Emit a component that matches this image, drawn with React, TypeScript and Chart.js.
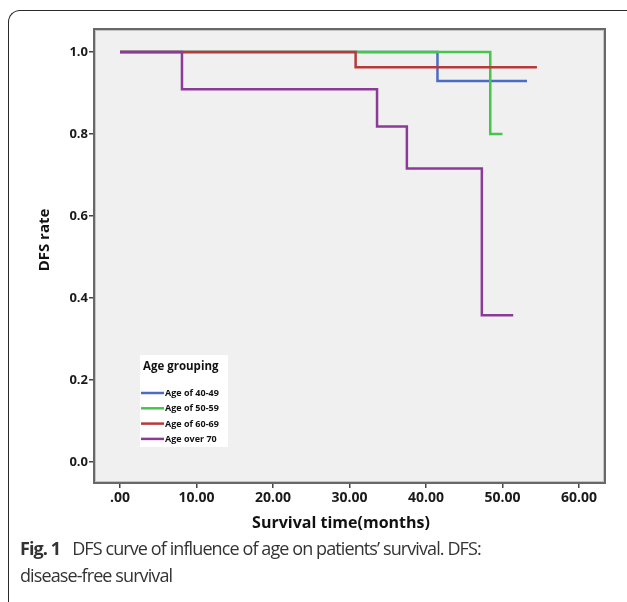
import React, { useEffect, useRef } from "react";
import { Chart, registerables } from "chart.js";

Chart.register(...registerables);

// ---- data ----
const groupNames = ["Age of 40-49", "Age of 50-59", "Age of 60-69", "Age over 70"];
const groupColors = ["#4a6cc4", "#45c64a", "#b8393c", "#8c3a98"];

const blueTimes = [0, 41.5, 53.2];
const blueRates = [1.0, 0.929, 0.929];
const greenTimes = [0, 48.4, 50.0];
const greenRates = [1.0, 0.8, 0.8];
const redTimes = [0, 30.8, 54.5];
const redRates = [1.0, 0.963, 0.963];
const purpleTimes = [0, 8.1, 33.6, 37.5, 47.3, 51.4];
const purpleRates = [1.0, 0.909, 0.818, 0.716, 0.358, 0.358];

const xTickValues = [0, 10, 20, 30, 40, 50, 60];
const yTickValues = [0, 0.2, 0.4, 0.6, 0.8, 1.0];

const xTitle = "Survival time(months)";
const yTitle = "DFS rate";
const legendTitle = "Age grouping";

const toPoints = (xs: number[], ys: number[]) => xs.map((x, i) => ({ x, y: ys[i] }));

const FONT = "'Open Sans', 'Noto Sans', sans-serif";

export default function App() {
  const canvasRef = useRef<HTMLCanvasElement | null>(null);

  useEffect(() => {
    const canvas = canvasRef.current;
    if (!canvas) return;

    const seriesX = [blueTimes, greenTimes, redTimes, purpleTimes];
    const seriesY = [blueRates, greenRates, redRates, purpleRates];

    const bgPlugin = {
      id: "bgFrame",
      beforeDatasetsDraw(chart: any) {
        const { ctx, chartArea } = chart;
        ctx.save();
        ctx.fillStyle = "#f0f0f0";
        ctx.fillRect(chartArea.left, chartArea.top, chartArea.right - chartArea.left, chartArea.bottom - chartArea.top);
        ctx.restore();
      },
      afterDatasetsDraw(chart: any) {
        const { ctx, chartArea } = chart;
        ctx.save();
        // legend box
        const lx = 140, ly = 355, lw = 88, lh = 92;
        ctx.fillStyle = "#ffffff";
        ctx.fillRect(lx, ly, lw, lh);
        ctx.fillStyle = "#111";
        ctx.font = `bold 11.5px ${FONT}`;
        ctx.textAlign = "left";
        ctx.textBaseline = "middle";
        ctx.fillText(legendTitle, 143, 367);
        ctx.font = `bold 9px ${FONT}`;
        groupNames.forEach((name, i) => {
          const y = 393 + i * 15.3;
          ctx.strokeStyle = groupColors[i];
          ctx.lineWidth = 2.5;
          ctx.beginPath();
          ctx.moveTo(141, y);
          ctx.lineTo(164, y);
          ctx.stroke();
          ctx.fillStyle = "#111";
          ctx.fillText(name, 165, y + 0.5);
        });
        // frame
        ctx.strokeStyle = "#c4c4c4";
        ctx.lineWidth = 1;
        ctx.strokeRect(chartArea.left + 1.5, chartArea.top + 1.5, chartArea.right - chartArea.left - 3, chartArea.bottom - chartArea.top - 3);
        ctx.strokeStyle = "#686868";
        ctx.lineWidth = 2;
        ctx.strokeRect(chartArea.left, chartArea.top, chartArea.right - chartArea.left, chartArea.bottom - chartArea.top);
        // axis titles
        ctx.fillStyle = "#111";
        ctx.font = `bold 16px ${FONT}`;
        ctx.textAlign = "center";
        ctx.textBaseline = "middle";
        ctx.fillText(xTitle, 341, 523);
        ctx.translate(45, 240);
        ctx.rotate(-Math.PI / 2);
        ctx.font = `bold 15px ${FONT}`;
        ctx.fillText(yTitle, 0, 0);
        ctx.restore();
      },
    };

    const chart = new Chart(canvas, {
      type: "line",
      data: {
        datasets: groupNames.map((name, i) => ({
          label: name,
          data: toPoints(seriesX[i], seriesY[i]),
          borderColor: groupColors[i],
          backgroundColor: groupColors[i],
          borderWidth: 2.5,
          pointRadius: 0,
          stepped: true,
          fill: false,
          order: 3 - i,
        })),
      },
      options: {
        animation: false,
        responsive: false,
        maintainAspectRatio: false,
        layout: { padding: { top: 29, right: 22, left: 0, bottom: 0 } },
        plugins: {
          legend: { display: false },
          tooltip: { enabled: false },
        },
        scales: {
          x: {
            type: "linear",
            min: -3.4,
            max: 63.4,
            afterBuildTicks: (scale: any) => {
              scale.ticks = xTickValues.map((v) => ({ value: v }));
            },
            afterFit: (scale: any) => {
              scale.height = 57;
            },
            ticks: {
              font: { family: FONT, size: 14, weight: "bold" },
              color: "#1a1a1a",
              padding: 2,
              maxRotation: 0,
              autoSkip: false,
              callback: (v: any) => {
                const s = Number(v).toFixed(2);
                return s.startsWith("0") ? s.slice(1) : s;
              },
            },
            grid: { drawOnChartArea: false, drawTicks: true, tickLength: 5, color: "#444", lineWidth: 1.5 },
            border: { display: false },
          },
          y: {
            type: "linear",
            min: -0.051,
            max: 1.056,
            afterBuildTicks: (scale: any) => {
              scale.ticks = yTickValues.map((v) => ({ value: v }));
            },
            afterFit: (scale: any) => {
              scale.width = 94;
            },
            ticks: {
              font: { family: FONT, size: 13, weight: "bold" },
              color: "#1a1a1a",
              padding: 1,
              autoSkip: false,
              callback: (v: any) => Number(v).toFixed(1),
            },
            grid: { drawOnChartArea: false, drawTicks: true, tickLength: 5, color: "#444", lineWidth: 1.5 },
            border: { display: false },
          },
        },
      },
      plugins: [bgPlugin],
    });

    return () => chart.destroy();
  }, []);

  return (
    <div style={{ position: "fixed", left: 0, top: 0, width: 627, height: 602, overflow: "hidden", background: "#fff" }}>
      <div
        style={{
          position: "absolute",
          left: 8,
          top: 10,
          width: 660,
          height: 640,
          borderLeft: "1.5px solid #2a2a2a",
          borderTop: "1.5px solid #2a2a2a",
          borderTopLeftRadius: 12,
          boxSizing: "border-box",
        }}
      />
      <canvas ref={canvasRef} width={627} height={540} style={{ position: "absolute", left: 0, top: 0, width: 627, height: 540 }} />
      <div
        style={{
          position: "absolute",
          left: 20,
          top: 535,
          fontFamily: FONT,
          fontSize: 18,
          lineHeight: "27px",
          color: "#333",
          whiteSpace: "nowrap",
          letterSpacing: "-0.9px",
        }}
      >
        <span style={{ fontWeight: 700 }}>Fig. 1</span>
        {"\u2002 DFS curve of influence of age on patients\u2019 survival. DFS:"}
        <br />
        disease-free survival
      </div>
    </div>
  );
}
